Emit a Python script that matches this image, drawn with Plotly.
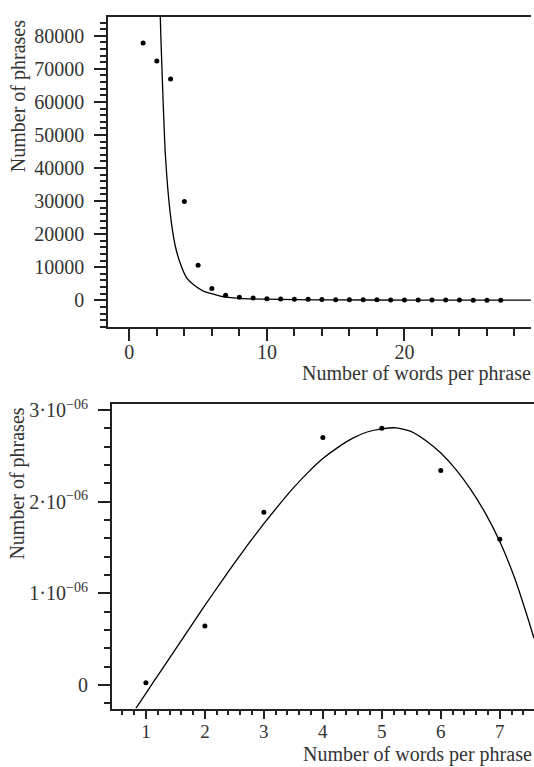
import plotly.graph_objects as go

# ---- Top chart data ----
top_words = list(range(1, 28))
top_phrases = [77800, 72400, 66900, 29900, 10600, 3600, 1500, 900, 700, 500,
               400, 350, 300, 250, 200, 180, 150, 130, 110, 100,
               90, 80, 70, 60, 50, 40, 30]
top_fit_x = [2.25, 2.30, 2.47, 2.62, 2.96, 3.32, 3.7, 4.17, 4.7, 5.38, 6.6, 8.05, 10, 12, 15, 20, 25, 29.2]
top_fit_y = [85700, 78700, 58700, 44000, 26800, 16800, 11200, 6800, 4600, 2790, 1290, 600, 330, 200, 120, 60, 35, 25]

# ---- Bottom chart data ----
bot_words = [1, 2, 3, 4, 5, 6, 7]
bot_phrases = [0.025e-6, 0.644e-6, 1.884e-6, 2.70e-6, 2.80e-6, 2.341e-6, 1.589e-6]
bot_fit_x = [0.83, 1.0, 1.25, 1.5, 1.75, 2.0, 2.25, 2.5, 2.75, 3.0, 3.25, 3.5, 3.75, 4.0, 4.25, 4.5, 4.75,
             5.0, 5.25, 5.5, 5.75, 6.0, 6.25, 6.5, 6.75, 7.0, 7.25, 7.5, 7.58]
bot_fit_y = [-0.253e-6, -0.09e-6, 0.15e-6, 0.39e-6, 0.63e-6, 0.87e-6, 1.10e-6, 1.33e-6, 1.55e-6, 1.76e-6,
             1.96e-6, 2.15e-6, 2.32e-6, 2.47e-6, 2.59e-6, 2.69e-6, 2.76e-6, 2.795e-6, 2.805e-6, 2.765e-6,
             2.665e-6, 2.53e-6, 2.355e-6, 2.14e-6, 1.88e-6, 1.565e-6, 1.17e-6, 0.68e-6, 0.51e-6]
bot_ytick_vals = [0, 1e-6, 2e-6, 3e-6]
bot_ytick_text = ["0", "1·10<sup>−06</sup>", "2·10<sup>−06</sup>", "3·10<sup>−06</sup>"]

W, H = 534, 767
FONT = "Liberation Serif"
TXT = "#333333"
AX = "#222222"

fig = go.Figure()
fig.add_trace(go.Scatter(x=top_fit_x, y=top_fit_y, mode="lines", line=dict(color="black", width=1.3, shape="spline", smoothing=0.5),
                         xaxis="x", yaxis="y", showlegend=False))
fig.add_trace(go.Scatter(x=top_words, y=top_phrases, mode="markers", marker=dict(color="black", size=5),
                         xaxis="x", yaxis="y", showlegend=False))
fig.add_trace(go.Scatter(x=bot_fit_x, y=bot_fit_y, mode="lines", line=dict(color="black", width=1.3, shape="spline", smoothing=0.5),
                         xaxis="x2", yaxis="y2", showlegend=False))
fig.add_trace(go.Scatter(x=bot_words, y=bot_phrases, mode="markers", marker=dict(color="black", size=5),
                         xaxis="x2", yaxis="y2", showlegend=False))

tickfont = dict(family=FONT, size=20, color=TXT)
common = dict(showgrid=False, zeroline=False, showline=True, linecolor=AX, linewidth=1.5,
              ticks="outside", tickcolor=AX, tickwidth=1.5, tickfont=tickfont)

fig.update_layout(
    width=W, height=H,
    margin=dict(l=0, r=0, t=0, b=0),
    paper_bgcolor="white", plot_bgcolor="white",
    font=dict(family=FONT, color=TXT),
    xaxis=dict(domain=[108 / W, 531 / W], range=[-1.55, 29.2], anchor="y",
               tickmode="linear", tick0=0, dtick=10, ticklen=12, mirror=True,
               minor=dict(tickmode="linear", tick0=0, dtick=2, ticklen=7, ticks="outside", tickcolor=AX, tickwidth=1.5),
               ticklabelstandoff=-6, **common),
    yaxis=dict(domain=[1 - 323 / H, 1 - 10 / H], range=[-8090, 85700], anchor="x",
               tickmode="linear", tick0=0, dtick=10000, ticklen=12, tickformat="d",
               minor=dict(tickmode="linear", tick0=0, dtick=2000, ticklen=6, ticks="outside", tickcolor=AX, tickwidth=1.5),
               ticklabelstandoff=6, **common),
    xaxis2=dict(domain=[111.7 / W, 1.0], range=[0.42, 7.58], anchor="y2",
                tickmode="linear", tick0=0, dtick=1, ticklen=9, mirror=True,
                minor=dict(tickmode="linear", tick0=0, dtick=0.2, ticklen=5, ticks="outside", tickcolor=AX, tickwidth=1.5),
                ticklabelstandoff=-4,
                showgrid=False, zeroline=False, showline=True, linecolor=AX, linewidth=1.5,
                ticks="outside", tickcolor=AX, tickwidth=1.5, tickfont=dict(family=FONT, size=19, color=TXT)),
    yaxis2=dict(domain=[1 - 708 / H, 1 - 400.7 / H], range=[-0.256e-6, 3.065e-6], anchor="x2",
                tickmode="array", tickvals=bot_ytick_vals, ticktext=bot_ytick_text, ticklen=12,
                minor=dict(tickmode="linear", tick0=0, dtick=0.2e-6, ticklen=6, ticks="outside", tickcolor=AX, tickwidth=1.5),
                ticklabelstandoff=6, **common),
    annotations=[
        dict(text="Number of phrases", x=18 / W, y=1 - 90 / H, xref="paper", yref="paper",
             xanchor="center", yanchor="middle", textangle=-90, showarrow=False,
             font=dict(family=FONT, size=20, color=TXT)),
        dict(text="Number of words per phrase", x=533 / W, y=1 - 370 / H, xref="paper", yref="paper",
             xanchor="right", yanchor="middle", showarrow=False,
             font=dict(family=FONT, size=20, color=TXT)),
        dict(text="Number of phrases", x=18 / W, y=1 - 481 / H, xref="paper", yref="paper",
             xanchor="center", yanchor="middle", textangle=-90, showarrow=False,
             font=dict(family=FONT, size=20, color=TXT)),
        dict(text="Number of words per phrase", x=533 / W, y=0, xref="paper", yref="paper",
             xanchor="right", yanchor="bottom", showarrow=False, borderpad=0,
             font=dict(family=FONT, size=20, color=TXT)),
    ],
)

fig.write_html("out.html", config={"displayModeBar": False},
               post_script="document.body.style.margin='0';")
